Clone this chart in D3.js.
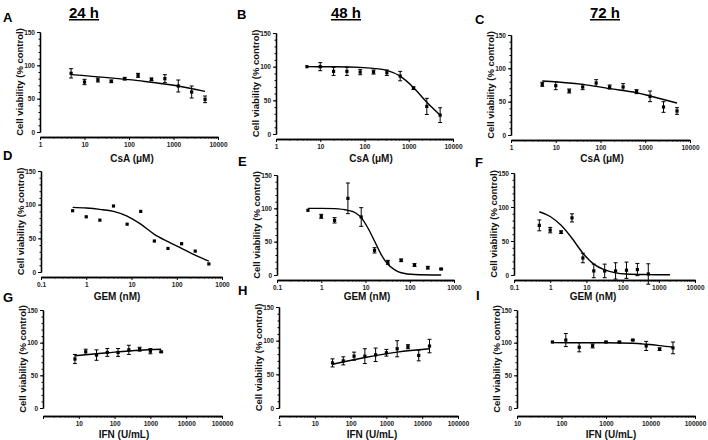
<!DOCTYPE html>
<html>
<head>
<meta charset="utf-8">
<script src="https://cdn.jsdelivr.net/npm/d3@7"></script>
<style>
  body { margin: 0; background: #fff; }
  svg { font-family: "Liberation Sans", Arial, sans-serif; }
  .tick text { fill: #222; font-size: 6.5px; font-weight: bold; }
</style>
</head>
<body>
<svg id="chart" width="708" height="440"></svg>
<script>
// doses
const csaDose = [5, 10, 20, 40, 80, 160, 320, 640, 1280, 2560, 5120];
const gemDose = [0.5, 1, 2, 4, 8, 16, 32, 64, 128, 256, 512];
const ifnDose24 = [7.8, 15.6, 31.25, 62.5, 125, 250, 500, 1000, 2000];
const ifnDose48 = [31.25, 62.5, 125, 250, 500, 1000, 2000, 4000, 8000, 16000];
const ifnDose72 = [62.5, 125, 250, 500, 1000, 2000, 4000, 8000, 16000, 32000];

// mean viability (% control) and error
const csa24 = [88, 75, 78, 76, 80, 85, 79, 80, 69, 60, 49];
const csa24Err = [7, 4, 3, 2, 2, 3, 2, 6, 9, 9, 5];
const csa48 = [100, 100, 93, 93, 92, 92, 91, 86, 68, 41, 28];
const csa48Err = [0, 6, 6, 6, 4, 3, 4, 7, 2, 12, 11];
const csa72 = [76, 74, 66, 72, 78, 72, 72, 65, 58, 42, 36];
const csa72Err = [3, 6, 3, 4, 5, 3, 5, 3, 8, 8, 5];

const gem24 = [91, 82, 77, 98, 71, 90, 46, 35, 42, 31, 12];
const gem24Err = [0, 0, 0, 0, 0, 0, 0, 0, 0, 0, 0];
const gem48 = [97, 88, 82, 115, 87, 37, 19, 22, 15, 11, 9];
const gem48Err = [0, 3, 4, 23, 14, 4, 3, 2, 2, 2, 1];
const gem72 = [73, 66, 63, 84, 25, 6, 6, 6, 7, 8, 1.5];
const gem72Err = [8, 4, 2, 6, 7, 10, 10, 12, 12, 9, 15];

const ifn24 = [75, 86, 81, 85, 85, 89, 90, 87, 86];
const ifn24Err = [7, 4, 8, 6, 6, 7, 3, 4, 1];
const ifn48 = [67, 70, 77, 77, 79, 82, 88, 91, 78, 92];
const ifn48Err = [6, 6, 6, 11, 10, 5, 12, 3, 8, 10];
const ifn72 = [101, 104, 93, 95, 101, 101, 104, 95, 90, 92];
const ifn72Err = [0, 10, 7, 3, 1, 1, 1, 7, 2, 9];

// fitted curves as [dose, viability]
const csa24Fit = [[5, 86], [160, 77], [1280, 69], [2560, 65], [5120, 61]];
const csa48Fit = [[5, 100], [20, 99.8], [80, 99], [160, 97.5], [320, 94.5], [640, 86], [1280, 69], [2560, 47], [5120, 28]];
const csa72Fit = [[5, 81], [40, 76], [160, 69.5], [640, 63.5], [1280, 58.5], [5120, 48]];
const gem24Fit = [[0.5, 96], [1, 95], [2, 93], [4, 90], [8, 83], [16, 71], [32, 56], [64, 45], [128, 35], [256, 25], [512, 16]];
const gem48Fit = [[0.5, 100], [1, 100], [2, 99.5], [4, 97], [6, 93], [8, 86], [11, 72], [16, 51], [22, 32], [32, 16], [45, 8], [64, 3.3], [128, 0.7], [512, 0]];
const gem72Fit = [[0.5, 93], [1, 86], [2, 73], [4, 54], [8, 32], [16, 16], [32, 7.5], [64, 3.2], [128, 1.5], [512, 0.6], [2048, 0.3]];
const ifn24Fit = [[7.8, 80], [62.5, 84.5], [500, 88.5], [2000, 90]];
const ifn48Fit = [[31.25, 65], [250, 75], [2000, 83], [16000, 88]];
const ifn72Fit = [[62.5, 100], [1000, 99.8], [4000, 99], [8000, 97.5], [16000, 95.5], [32000, 93]];

const yTicks = [0, 50, 100, 150];

// panel layout
const panels = [
  {letter: "A", lx: 3, ly: 22, head: "24 h", hx: 84, xr: [40, 218], dom: [1, 1e4], yr: [132, 32], ax: 137,
   xt: "CsA (μM)", xtx: 132, xty: 162, labels: [1, 10, 100, 1000, 10000],
   dose: csaDose, val: csa24, err: csa24Err, fit: csa24Fit},
  {letter: "B", lx: 237, ly: 19, head: "48 h", hx: 346, xr: [276, 453], dom: [1, 1e4], yr: [134, 33], ax: 139,
   xt: "CsA (μM)", xtx: 371, xty: 162, labels: [1, 10, 100, 1000, 10000],
   dose: csaDose, val: csa48, err: csa48Err, fit: csa48Fit},
  {letter: "C", lx: 475, ly: 24, head: "72 h", hx: 605, xr: [511, 690], dom: [1, 1e4], yr: [135, 35], ax: 140,
   xt: "CsA (μM)", xtx: 602, xty: 162, labels: [1, 10, 100, 1000, 10000],
   dose: csaDose, val: csa72, err: csa72Err, fit: csa72Fit},
  {letter: "D", lx: 3, ly: 160, xr: [41, 222], dom: [0.1, 1000], yr: [272, 171], ax: 277,
   xt: "GEM (nM)", xtx: 117, xty: 300, labels: [0.1, 1, 10, 100, 1000],
   dose: gemDose, val: gem24, err: gem24Err, fit: gem24Fit},
  {letter: "E", lx: 238, ly: 166, xr: [277, 454], dom: [0.1, 1000], yr: [275, 175], ax: 280,
   xt: "GEM (nM)", xtx: 367, xty: 300, labels: [0.1, 1, 10, 100, 1000],
   dose: gemDose, val: gem48, err: gem48Err, fit: gem48Fit},
  {letter: "F", lx: 475, ly: 167, xr: [514, 695], dom: [0.1, 1e4], yr: [275, 173], ax: 280,
   xt: "GEM (nM)", xtx: 593, xty: 300, labels: [0.1, 1, 10, 100, 1000, 10000],
   dose: gemDose, val: gem72, err: gem72Err, fit: gem72Fit},
  {letter: "G", lx: 3, ly: 302, xr: [43, 222], dom: [1, 1e5], yr: [408, 310], ax: 416,
   xt: "IFN (U/mL)", xtx: 124, xty: 438, labels: [10, 100, 1000, 10000, 100000],
   dose: ifnDose24, val: ifn24, err: ifn24Err, fit: ifn24Fit},
  {letter: "H", lx: 238, ly: 295, xr: [279, 458], dom: [1, 1e5], yr: [408, 307], ax: 416,
   xt: "IFN (U/mL)", xtx: 372, xty: 438, labels: [1, 10, 100, 1000, 10000, 100000],
   dose: ifnDose48, val: ifn48, err: ifn48Err, fit: ifn48Fit},
  {letter: "I", lx: 476, ly: 300, xr: [517, 695], dom: [10, 1e5], yr: [408, 310], ax: 416,
   xt: "IFN (U/mL)", xtx: 611, xty: 438, labels: [10, 100, 1000, 10000, 100000],
   dose: ifnDose72, val: ifn72, err: ifn72Err, fit: ifn72Fit}
];

const svg = d3.select("#chart");

function logTicks(dom) {
  let major = [], minor = [];
  for (let d = dom[0]; d <= dom[1] * 1.0001; d *= 10) {
    major.push(+d.toPrecision(3));
    if (d < dom[1] * 0.999)
      for (let k = 2; k < 10; k++) minor.push(+(k * d).toPrecision(3));
  }
  return {major, minor};
}

function drawPanel(p) {
  let x = d3.scaleLog().domain(p.dom).range(p.xr);
  let y = d3.scaleLinear().domain([0, 150]).range(p.yr);
  let g = svg.append("g");
  let lt = logTicks(p.dom);

  // y axis
  g.append("g")
    .attr("transform", `translate(${p.xr[0]},0)`)
    .call(d3.axisLeft(y).tickValues(d3.range(0, 151, 10)).tickSize(1.5).tickFormat("").tickSizeOuter(0));
  g.append("g")
    .attr("transform", `translate(${p.xr[0]},0)`)
    .call(d3.axisLeft(y).tickValues(yTicks).tickSize(3).tickPadding(2).tickSizeOuter(0));

  // x axis
  g.append("g")
    .attr("transform", `translate(0,${p.ax})`)
    .call(d3.axisBottom(x).tickValues(lt.minor).tickSize(1.5).tickFormat("").tickSizeOuter(0));
  g.append("g")
    .attr("transform", `translate(0,${p.ax})`)
    .call(d3.axisBottom(x).tickValues(lt.major).tickSize(3).tickPadding(2).tickSizeOuter(0)
      .tickFormat(d => p.labels.some(l => Math.abs(l - d) < 1e-6 * d) ? String(d) : ""));

  g.selectAll(".domain").attr("stroke", "#000").attr("stroke-width", 1.3);
  g.selectAll(".tick line").attr("stroke", "#000").attr("stroke-width", 1);

  // titles
  g.append("text")
    .attr("transform", `translate(${p.xr[0] - 21},${(p.yr[0] + p.yr[1]) / 2}) rotate(-90)`)
    .attr("text-anchor", "middle").attr("dominant-baseline", "central")
    .attr("font-size", 9.5).attr("font-weight", "bold").attr("fill", "#111")
    .text("Cell viability (% control)");
  g.append("text")
    .attr("x", p.xtx).attr("y", p.xty)
    .attr("text-anchor", "middle")
    .attr("font-size", 10).attr("font-weight", "bold").attr("fill", "#111")
    .text(p.xt);
  g.append("text")
    .attr("x", p.lx).attr("y", p.ly)
    .attr("font-size", 13).attr("font-weight", "bold")
    .text(p.letter);
  if (p.head) {
    let t = g.append("text")
      .attr("x", p.hx).attr("y", 18)
      .attr("text-anchor", "middle")
      .attr("font-size", 15).attr("font-weight", "bold")
      .attr("text-decoration", "underline")
      .text(p.head);
  }

  // fit curve
  g.append("path")
    .datum(p.fit)
    .attr("fill", "none").attr("stroke", "#000").attr("stroke-width", 1.4)
    .attr("d", d3.line().x(d => x(d[0])).y(d => y(d[1])).curve(d3.curveMonotoneX));

  // error bars + points
  let pts = p.dose.map((d, i) => ({d, v: p.val[i], e: p.err[i]}));
  let eb = g.append("g").attr("stroke", "#000").attr("stroke-width", 1);
  pts.filter(d => d.e > 0).forEach(d => {
    let cx = x(d.d);
    eb.append("line").attr("x1", cx).attr("x2", cx).attr("y1", y(d.v - d.e)).attr("y2", y(d.v + d.e));
    eb.append("line").attr("x1", cx - 2).attr("x2", cx + 2).attr("y1", y(d.v - d.e)).attr("y2", y(d.v - d.e));
    eb.append("line").attr("x1", cx - 2).attr("x2", cx + 2).attr("y1", y(d.v + d.e)).attr("y2", y(d.v + d.e));
  });
  g.selectAll("rect.pt")
    .data(pts).enter()
    .append("rect")
    .attr("x", d => x(d.d) - 1.6).attr("y", d => y(d.v) - 1.6)
    .attr("width", 3.2).attr("height", 3.2)
    .attr("fill", "#000");
}

panels.forEach(drawPanel);
</script>
</body>
</html>
